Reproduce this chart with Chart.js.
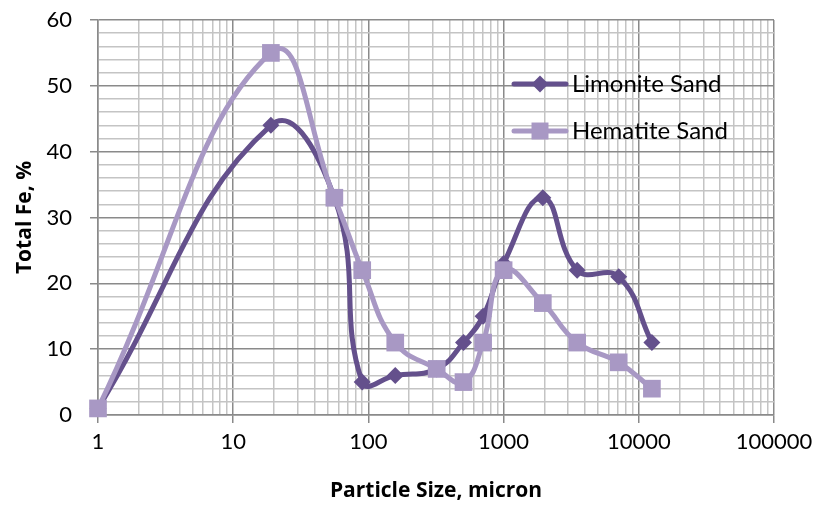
<!DOCTYPE html>
<html>
<head>
<meta charset="utf-8">
<script src="https://cdn.jsdelivr.net/npm/chart.js@4/dist/chart.umd.min.js"></script>
<style>
html,body{margin:0;padding:0;background:#fff;}
canvas{display:block;}
</style>
</head>
<body>
<canvas id="c" width="817" height="507"></canvas>
<script>
const particleSizes = [1, 19, 56, 90, 158, 320, 505, 705, 1000, 1950, 3500, 7100, 12500];
const limoniteSand = [1, 44, 33, 5, 6, 7, 11, 15, 23, 33, 22, 21, 11];
const hematiteSand = [1, 55, 33, 22, 11, 7, 5, 11, 22, 17, 11, 8, 4];
const xTickDecades = [1, 10, 100, 1000, 10000, 100000];
const yTickLabels = [0, 10, 20, 30, 40, 50, 60];
const seriesNames = ['Limonite Sand', 'Hematite Sand'];

const LIM_COLOR = '#64508c';
const HEM_COLOR = '#a898c4';
const MAJOR_GRID = '#8a8a8a';
const MINOR_GRID = '#c4c4c4';
const FONT = 'Lato, "Open Sans", sans-serif';
const TITLE_FONT = '"Open Sans", Lato, sans-serif';

function toXY(xs, ys) { return xs.map((x, i) => ({x: x, y: ys[i]})); }
function isDecade(v) { return xTickDecades.indexOf(v) >= 0; }

const legendPlugin = {
  id: 'insideLegend',
  afterDatasetsDraw(chart) {
    const ctx = chart.ctx;
    const rows = [
      {name: seriesNames[0], color: LIM_COLOR, style: 'rectRot', r: 8.5, y: 84},
      {name: seriesNames[1], color: HEM_COLOR, style: 'rect', r: 12, y: 131}
    ];
    ctx.save();
    rows.forEach(row => {
      ctx.strokeStyle = row.color;
      ctx.lineWidth = 5;
      ctx.lineCap = 'round';
      ctx.beginPath();
      ctx.moveTo(514, row.y);
      ctx.lineTo(566, row.y);
      ctx.stroke();
      ctx.fillStyle = row.color;
      Chart.helpers.drawPoint(ctx, {pointStyle: row.style, radius: row.r, borderWidth: 0}, 540, row.y);
      ctx.fillStyle = '#000';
      ctx.font = '24px ' + FONT;
      ctx.textAlign = 'left';
      ctx.textBaseline = 'middle';
      ctx.fillText(row.name, 572, row.y);
    });
    ctx.restore();
  }
};

new Chart(document.getElementById('c'), {
  type: 'line',
  data: {
    datasets: [
      {
        label: seriesNames[0],
        data: toXY(particleSizes, limoniteSand),
        borderColor: LIM_COLOR,
        backgroundColor: LIM_COLOR,
        borderWidth: 5,
        pointStyle: 'rectRot',
        pointRadius: 8.5,
        pointBorderWidth: 0,
        tension: 0.45,
        clip: false,
        order: 1
      },
      {
        label: seriesNames[1],
        data: toXY(particleSizes, hematiteSand),
        borderColor: HEM_COLOR,
        backgroundColor: HEM_COLOR,
        borderWidth: 5,
        pointStyle: 'rect',
        pointRadius: 12.5,
        pointBorderWidth: 0,
        tension: 0.45,
        clip: false,
        order: 0
      }
    ]
  },
  options: {
    responsive: false,
    animation: false,
    layout: {padding: {top: 20, right: 43, left: 0, bottom: 0}},
    plugins: {legend: {display: false}, tooltip: {enabled: false}},
    scales: {
      x: {
        type: 'logarithmic',
        min: 1,
        max: 100000,
        afterBuildTicks(scale) {
          const t = [];
          for (let d = 1; d < 100000; d *= 10) {
            for (let m = 1; m <= 9; m++) t.push({value: m * d});
          }
          t.push({value: 100000});
          scale.ticks = t;
        },
        afterFit(scale) { scale.height = 92; scale.paddingLeft = 0; scale.paddingRight = 0; },
        ticks: {
          autoSkip: false,
          maxRotation: 0,
          padding: 6,
          color: '#000',
          font: {family: FONT, size: 22},
          callback(v) { return isDecade(v) ? String(v) : ''; }
        },
        grid: {
          color: ctx => (ctx.tick && isDecade(ctx.tick.value)) ? MAJOR_GRID : MINOR_GRID,
          lineWidth: 1.5,
          tickLength: 8,
          tickColor: ctx => (ctx.tick && isDecade(ctx.tick.value)) ? MAJOR_GRID : 'rgba(0,0,0,0)'
        },
        border: {color: MAJOR_GRID, width: 1.5},
        title: {
          display: true,
          text: 'Particle Size, micron',
          color: '#000',
          font: {family: TITLE_FONT, size: 21, weight: 'bold'},
          padding: {top: 0, bottom: 3}
        }
      },
      y: {
        min: 0,
        max: 60,
        afterFit(scale) { scale.width = 98; scale.paddingTop = 0; scale.paddingBottom = 0; },
        ticks: {
          stepSize: 2,
          autoSkip: false,
          padding: 18,
          color: '#000',
          font: {family: FONT, size: 22},
          callback(v) { return yTickLabels.indexOf(v) >= 0 ? String(v) : ''; }
        },
        grid: {
          color: ctx => (ctx.tick && ctx.tick.value % 10 === 0) ? MAJOR_GRID : MINOR_GRID,
          lineWidth: 1.5,
          tickLength: 8,
          tickColor: ctx => (ctx.tick && ctx.tick.value % 10 === 0) ? MAJOR_GRID : 'rgba(0,0,0,0)'
        },
        border: {color: MAJOR_GRID, width: 1.5},
        title: {
          display: true,
          text: 'Total Fe, %',
          color: '#000',
          font: {family: TITLE_FONT, size: 21, weight: 'bold'},
          padding: {top: 12, bottom: 0}
        }
      }
    }
  },
  plugins: [legendPlugin]
});
</script>
</body>
</html>
